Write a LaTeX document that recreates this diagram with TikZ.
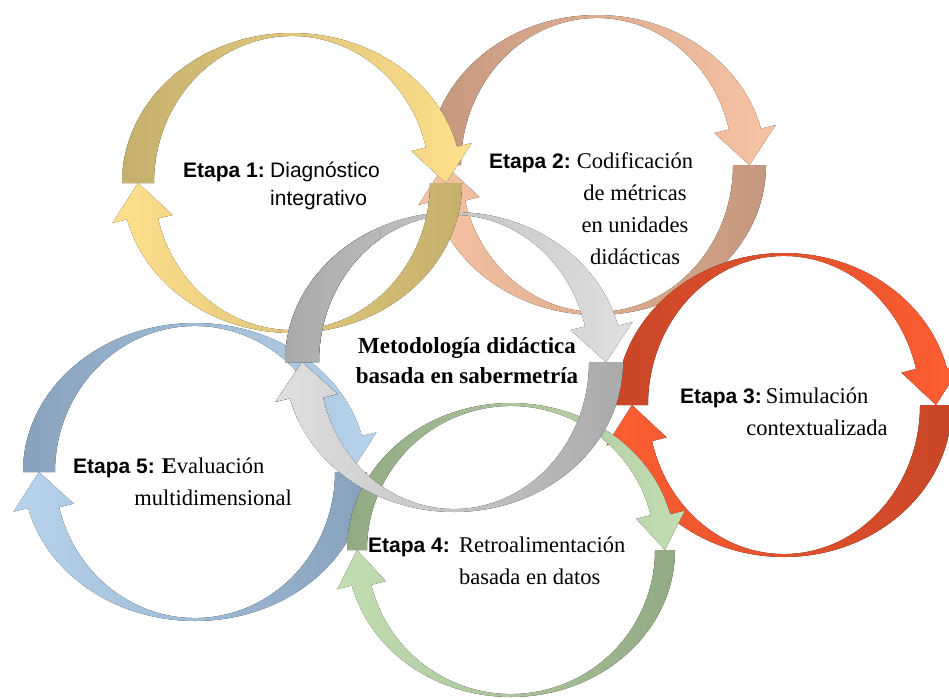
\documentclass[tikz,border=0pt]{standalone}
\usepackage{fontspec}
\setmainfont{Liberation Serif}
\setsansfont{Liberation Sans}
\definecolor{olivoO}{HTML}{C4B06C}
\definecolor{olivoC}{HTML}{FFE08C}
\definecolor{cafeO}{HTML}{C4987E}
\definecolor{cafeC}{HTML}{F8C4A4}
\definecolor{rojoO}{HTML}{C84628}
\definecolor{rojoC}{HTML}{FF5E32}
\definecolor{verdeO}{HTML}{92AA84}
\definecolor{verdeC}{HTML}{C4DEB4}
\definecolor{azulO}{HTML}{88A2BE}
\definecolor{azulC}{HTML}{B8D4EC}
\definecolor{grisO}{HTML}{AAAAAA}
\definecolor{grisC}{HTML}{E0E0E0}
\tikzset{etapa/.append style={anchor=base west, inner sep=0pt, font=\sffamily\bfseries\fontsize{21}{28}\selectfont}}
\tikzset{txt/.append style={anchor=base, inner sep=0pt, font=\fontsize{22.5}{32}\selectfont}}
\tikzset{txtsf/.append style={anchor=base west, inner sep=0pt, font=\sffamily\fontsize{21}{28}\selectfont}}
\tikzset{titulo/.append style={anchor=base, inner sep=0pt, font=\bfseries\fontsize{23}{30}\selectfont}}
% lines of a label, baseline on the first one
\newcommand{\renglones}[2]{\begin{tabular}[t]{@{}#1@{}}#2\end{tabular}}
% ring of two arrows: cx, cy, x radius, y radius, band, dark, light
\newcommand{\anillo}[7]{%
  \pgfmathsetmacro{\rxi}{#3-#5}%
  \pgfmathsetmacro{\ryi}{#4-3}%
  \pgfmathsetmacro{\rxm}{#3-#5/2}%
  \pgfmathsetmacro{\rxo}{#3+15}%
  \pgfmathsetmacro{\ryo}{#4+15}%
  \pgfmathsetmacro{\rxb}{#3-#5-15}%
  \pgfmathsetmacro{\ryb}{#4-18}%
  % upper arrow, left to right
  \fill[left color=#6, right color=#7, shift={(#1,#2)}]
    (180:{#3} and {#4}) arc[start angle=180, end angle=346, x radius=#3, y radius=#4]
    -- (346:{\rxo} and {\ryo}) -- (0:{\rxm} and {0}) -- (346:{\rxb} and {\ryb})
    -- (346:{\rxi} and {\ryi}) arc[start angle=346, end angle=180, x radius=\rxi, y radius=\ryi] -- cycle;
  % lower arrow, right to left
  \fill[left color=#7, right color=#6, shift={(#1,#2)}]
    (0:{#3} and {#4}) arc[start angle=0, end angle=166, x radius=#3, y radius=#4]
    -- (166:{\rxo} and {\ryo}) -- (180:{\rxm} and {0}) -- (166:{\rxb} and {\ryb})
    -- (166:{\rxi} and {\ryi}) arc[start angle=166, end angle=0, x radius=\rxi, y radius=\ryi] -- cycle;
}

\begin{document}
\begin{tikzpicture}[x=1pt, y=-1pt]
  \useasboundingbox[fill=white] (0,0) rectangle (949,698);
  % rings
  \anillo{597}{165}{169}{150}{33}{cafeO}{cafeC}
  \anillo{784}{405}{168}{152}{32}{rojoO}{rojoC}
  \anillo{195}{472}{172}{149}{32}{azulO}{azulC}
  \anillo{511}{550}{164}{147}{20}{verdeO}{verdeC}
  \anillo{454}{362}{169}{150}{34}{grisO}{grisC}
  \anillo{292}{183}{170}{150}{32}{olivoO}{olivoC}
  \begin{scope}
    \clip (250,230) rectangle (380,420);
    \anillo{454}{362}{169}{150}{34}{grisO}{grisC}
  \end{scope}

  % labels
  \node[etapa] (e1) at (183,177) {Etapa 1:};
  \node[txtsf] (t1) at (270,177) {\renglones{l}{Diagnóstico\\integrativo}};
  \node[etapa] (e2) at (489,168) {Etapa 2:};
  \node[txt] (t2) at (635,168) {\renglones{c}{Codificación\\de métricas\\en unidades\\didácticas}};
  \node[etapa] (e3) at (680,403) {Etapa 3:};
  \node[txt] (t3) at (817,403) {\renglones{c}{Simulación\\contextualizada}};
  \node[etapa] (e4) at (368,552) {Etapa 4:};
  \node[txt, anchor=base west] (t4) at (459,552) {\renglones{l}{Retroalimentación\\basada en datos}};
  \node[etapa] (e5) at (73,473) {Etapa 5:};
  \node[txt] (t5) at (213,473) {\renglones{c}{\textbf{E}valuación\\multidimensional}};
  \node[titulo] (met) at (467,353) {\renglones{c}{Metodología didáctica\\basada en sabermetría}};
\end{tikzpicture}
\end{document}
